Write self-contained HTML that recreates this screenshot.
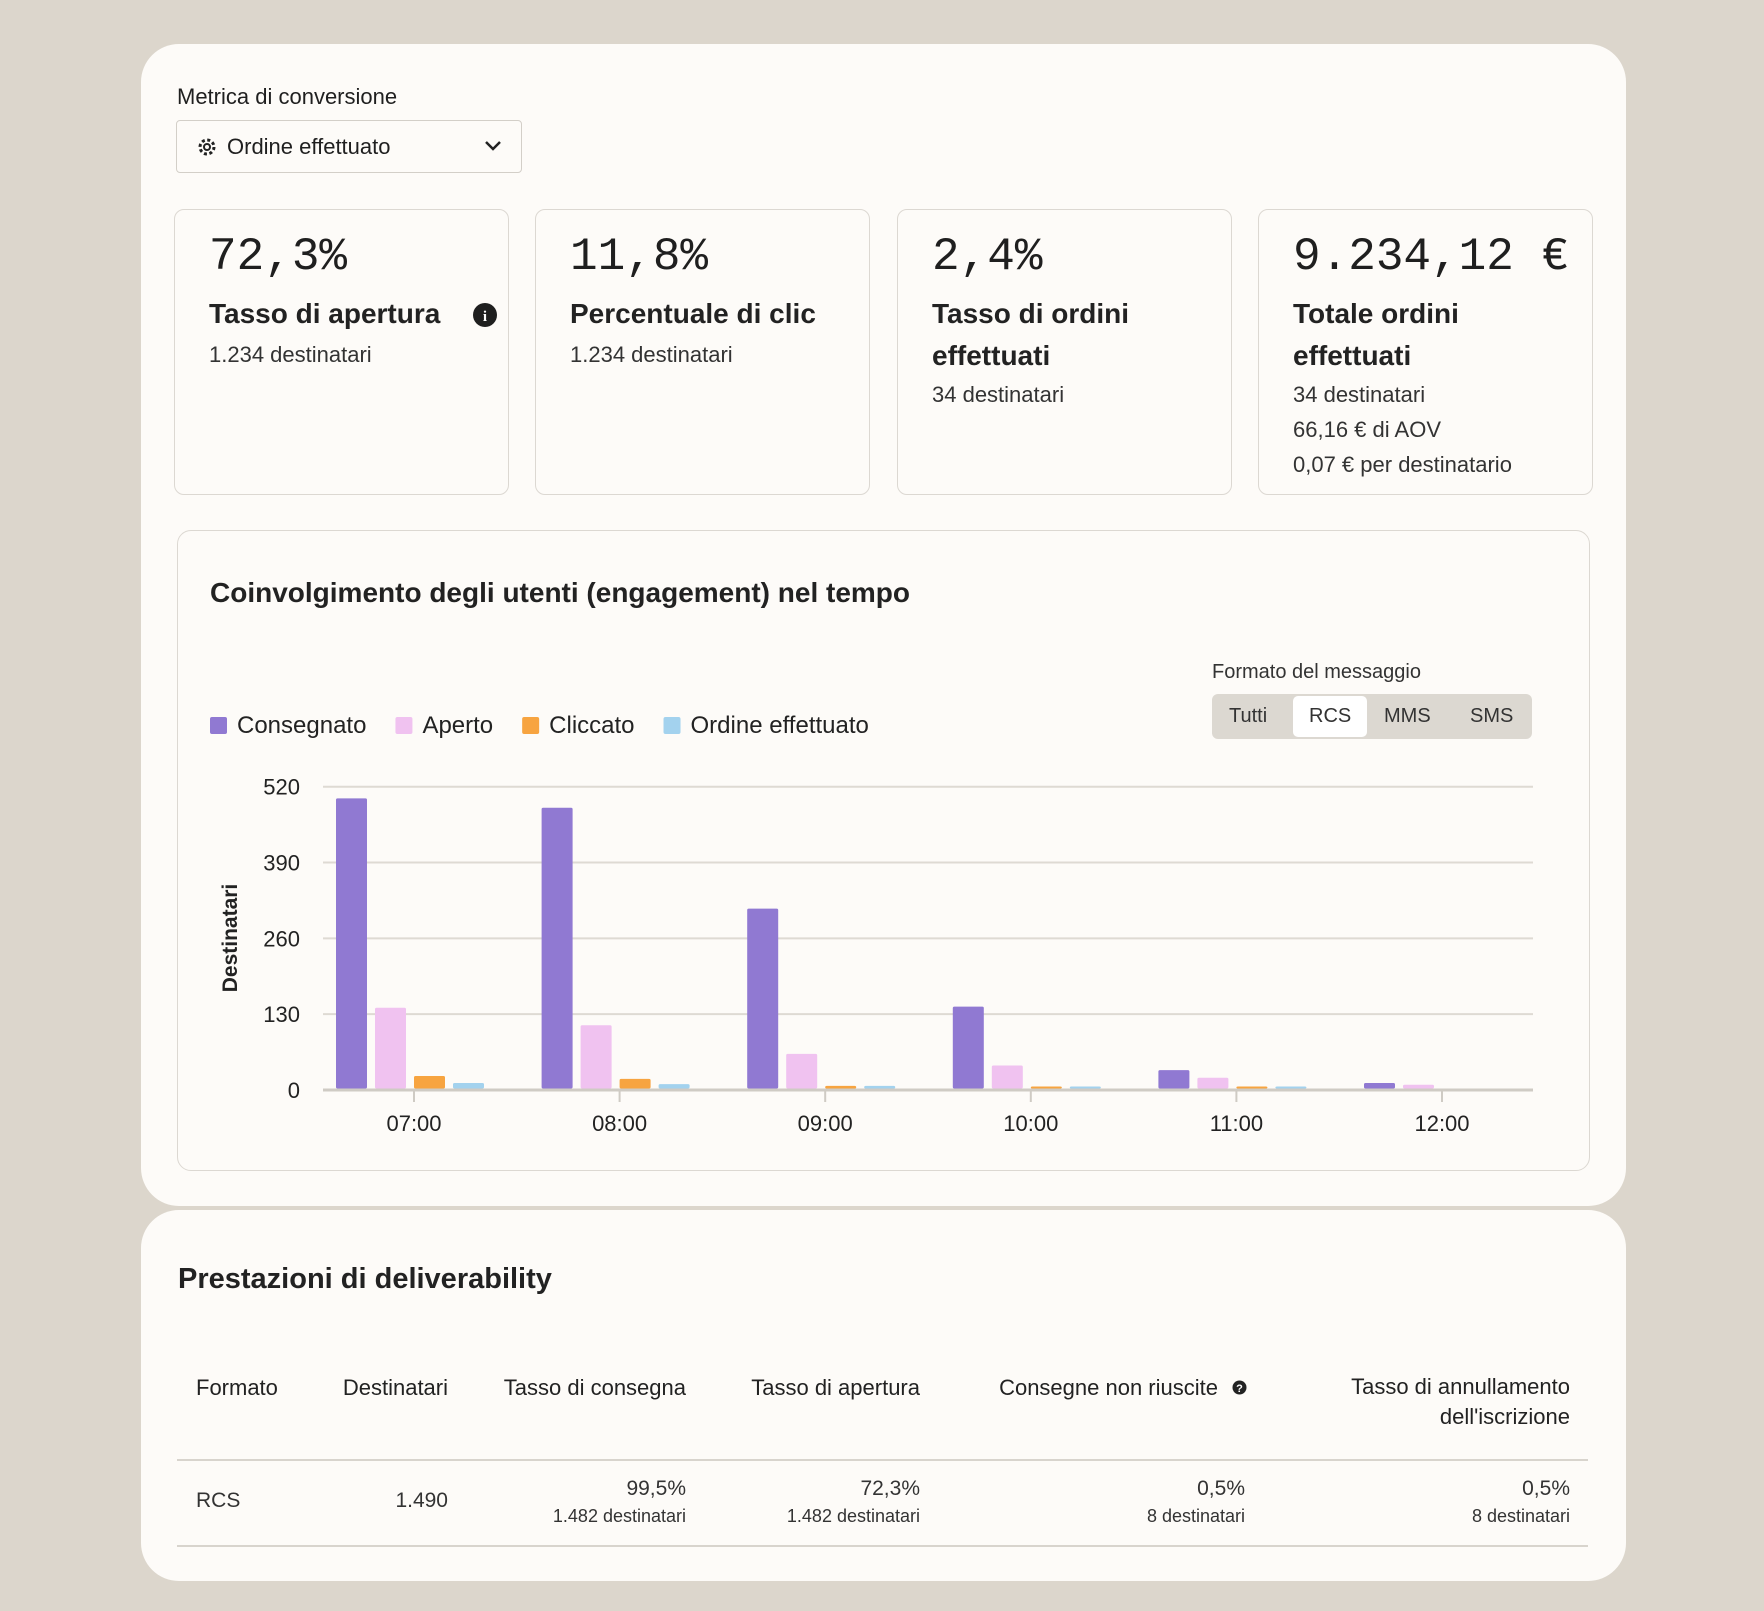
<!DOCTYPE html>
<html><head><meta charset="utf-8">
<style>
*{box-sizing:border-box;margin:0;padding:0}
body{width:1764px;height:1611px;background:#dcd6cc;font-family:"Liberation Sans",sans-serif;color:#1f1f1f;position:relative;overflow:hidden}
.abs{position:absolute}
.card{position:absolute;background:#fdfbf8;border-radius:38px}
.t{position:absolute;white-space:nowrap;line-height:1}
.stat{position:absolute;top:209px;width:335px;height:286px;border:1.5px solid #dcd8d2;border-radius:10px;background:#fdfbf8}
.big{position:absolute;left:34px;top:24px;font-family:"Liberation Mono",monospace;font-size:46px;line-height:1}
.st{position:absolute;left:34px;top:83px;font-size:28px;font-weight:bold;line-height:42px;color:#222}
.sub{font-size:22px;color:#333;line-height:35px;position:absolute;left:34px}
.th{font-size:22px;color:#222}
.td{font-size:21px;color:#333}
.tds{font-size:18px;color:#333}
</style></head><body>
<div class="card" style="left:141px;top:44px;width:1485px;height:1162px"></div>
<div class="card" style="left:141px;top:1210px;width:1485px;height:371px"></div>

<div class="t" style="left:177px;top:86px;font-size:22px">Metrica di conversione</div>
<div class="abs" style="left:176px;top:120px;width:346px;height:53px;border:1.5px solid #d3cfc8;border-radius:4px;background:#fdfbf8">
  <svg class="abs" style="left:20px;top:16px" width="20" height="20" viewBox="0 0 20 20"><circle cx="10" cy="10" r="7" fill="none" stroke="#222" stroke-width="3" stroke-dasharray="3 2.5"/><circle cx="10" cy="10" r="3" fill="none" stroke="#222" stroke-width="2"/></svg>
  <div class="t" style="left:50px;top:15px;font-size:22px">Ordine effettuato</div>
  <svg class="abs" style="left:307px;top:18px" width="18" height="14"><path d="M2 3 L9 10 L16 3" fill="none" stroke="#222" stroke-width="2.5"/></svg>
</div>

<div class="stat" style="left:174px">
  <div class="big">72,3%</div><div class="st">Tasso di apertura</div>
  <svg class="abs" style="left:297px;top:92px" width="26" height="26"><circle cx="13" cy="13" r="12" fill="#1f1f1f"/><text x="13" y="19" text-anchor="middle" font-size="15" font-weight="bold" fill="#fff" font-family="Liberation Serif">i</text></svg>
  <div class="sub" style="top:127px">1.234 destinatari</div>
</div>
<div class="stat" style="left:535px">
  <div class="big">11,8%</div><div class="st">Percentuale di clic</div>
  <div class="sub" style="top:127px">1.234 destinatari</div>
</div>
<div class="stat" style="left:897px">
  <div class="big">2,4%</div><div class="st">Tasso di ordini<br>effettuati</div>
  <div class="sub" style="top:167px">34 destinatari</div>
</div>
<div class="stat" style="left:1258px">
  <div class="big">9.234,12 €</div><div class="st">Totale ordini<br>effettuati</div>
  <div class="sub" style="top:167px">34 destinatari<br>66,16 € di AOV<br>0,07 € per destinatario</div>
</div>

<div class="abs" style="left:177px;top:530px;width:1413px;height:641px;border:1.5px solid #dcd8d2;border-radius:14px;background:#fdfbf8"></div>
<div class="t" style="left:210px;top:579px;font-size:28px;font-weight:bold;color:#222">Coinvolgimento degli utenti (engagement) nel tempo</div>
<div class="t" style="left:1212px;top:662px;font-size:20px;color:#333">Formato del messaggio</div>
<div class="abs" style="left:1212px;top:694px;width:320px;height:45px;background:#dcd8d1;border-radius:6px">
  <div class="t" style="left:17px;top:12px;font-size:20px;color:#333">Tutti</div>
  <div class="abs" style="left:81px;top:2px;width:74px;height:41px;background:#fff;border-radius:5px"><div class="t" style="left:16px;top:10px;font-size:20px;color:#333">RCS</div></div>
  <div class="t" style="left:172px;top:12px;font-size:20px;color:#333">MMS</div>
  <div class="t" style="left:258px;top:12px;font-size:20px;color:#333">SMS</div>
</div>

<svg id="chart" class="abs" style="left:0;top:0" width="1764" height="1611"></svg>

<div class="t" style="left:178px;top:1265px;font-size:29px;font-weight:bold;color:#222">Prestazioni di deliverability</div>
<div class="t th" style="left:196px;top:1377px">Formato</div>
<div class="t th" style="right:1316px;top:1377px">Destinatari</div>
<div class="t th" style="right:1078px;top:1377px">Tasso di consegna</div>
<div class="t th" style="right:844px;top:1377px">Tasso di apertura</div>
<div class="t th" style="right:546px;top:1377px">Consegne non riuscite</div>
<svg class="abs" style="left:1232px;top:1380px" width="15" height="15"><circle cx="7.5" cy="7.5" r="7" fill="#222"/><text x="7.5" y="12" text-anchor="middle" font-size="11" font-weight="bold" fill="#fff">?</text></svg>
<div class="t th" style="right:194px;text-align:right;line-height:30px;top:1372px">Tasso di annullamento<br>dell'iscrizione</div>
<div class="abs" style="left:177px;top:1459px;width:1411px;height:1.5px;background:#d8d4cd"></div>
<div class="abs" style="left:177px;top:1545px;width:1411px;height:1.5px;background:#d8d4cd"></div>
<div class="t td" style="left:196px;top:1490px">RCS</div>
<div class="t td" style="right:1316px;top:1490px">1.490</div>
<div class="t td" style="right:1078px;top:1478px">99,5%</div><div class="t tds" style="right:1078px;top:1507px">1.482 destinatari</div>
<div class="t td" style="right:844px;top:1478px">72,3%</div><div class="t tds" style="right:844px;top:1507px">1.482 destinatari</div>
<div class="t td" style="right:519px;top:1478px">0,5%</div><div class="t tds" style="right:519px;top:1507px">8 destinatari</div>
<div class="t td" style="right:194px;top:1478px">0,5%</div><div class="t tds" style="right:194px;top:1507px">8 destinatari</div>

<script>
const categories=["07:00","08:00","09:00","10:00","11:00","12:00"];
const consegnato=[500,484,311,143,34,12];
const aperto=[141,111,62,42,21,9];
const cliccato=[24,19,7,2,1,0];
const ordine=[12,10,7,3,1,0];
const yTicks=[0,130,260,390,520];
const seriesNames=["Consegnato","Aperto","Cliccato","Ordine effettuato"];
const seriesColors=["#9079d2","#f0c2f0","#f7a440","#a3d2ee"];
const NS="http://www.w3.org/2000/svg";
const svg=document.getElementById('chart');
const y0=1090,yTop=786.7,yMax=520,xL=323,xR=1533;
function yPos(v){return y0-(v/yMax)*(y0-yTop);}
function xCenter(i){return 414+i*205.6;}
function mk(tag,attrs){const e=document.createElementNS(NS,tag);for(const k in attrs)e.setAttribute(k,attrs[k]);svg.appendChild(e);return e;}
yTicks.forEach(v=>{
  const l=mk('line',{x1:xL,x2:xR,y1:yPos(v),y2:yPos(v),stroke:v===0?'#cfcbc4':'#dedad3','stroke-width':v===0?3:2});
  
  
  const t=mk('text',{x:300,y:yPos(v)+8,'text-anchor':'end','font-size':22,fill:'#222','font-family':'Liberation Sans'});
  t.textContent=v;
  
  
});
const at=mk('text',{x:0,y:0,'font-size':21,'font-weight':'bold',fill:'#222','text-anchor':'middle','font-family':'Liberation Sans',transform:'translate(237,938) rotate(-90)'});
at.textContent='Destinatari';


const all=[consegnato,aperto,cliccato,ordine];
categories.forEach((c,i)=>{
  const cx=xCenter(i);
  const tk=mk('line',{x1:cx,x2:cx,y1:y0,y2:y0+12,stroke:'#cfcbc4','stroke-width':2});
  
  
  const t=mk('text',{x:cx,y:1131,'text-anchor':'middle','font-size':22,fill:'#222','font-family':'Liberation Sans'});
  t.textContent=c;
  
  
  all.forEach((s,j)=>{
    const v=s[i]; if(v<=0) return;
    const x=cx-78+j*39;
    const h=Math.max(2,y0-1.5-yPos(v));
    const r=mk('rect',{x:x,y:y0-1.5-h,width:31,height:h,fill:seriesColors[j],rx:1.5});
    
    
  });
});
let lx=210;
seriesNames.forEach((n,j)=>{
  const r=mk('rect',{x:lx,y:717,width:17,height:17,fill:seriesColors[j],rx:2});
  
  
  const t=mk('text',{x:lx+27,y:733,'font-size':24,fill:'#222','font-family':'Liberation Sans'});
  t.textContent=n;
  
  
  lx+=27+t.getComputedTextLength()+29;
});
</script>
</body></html>
